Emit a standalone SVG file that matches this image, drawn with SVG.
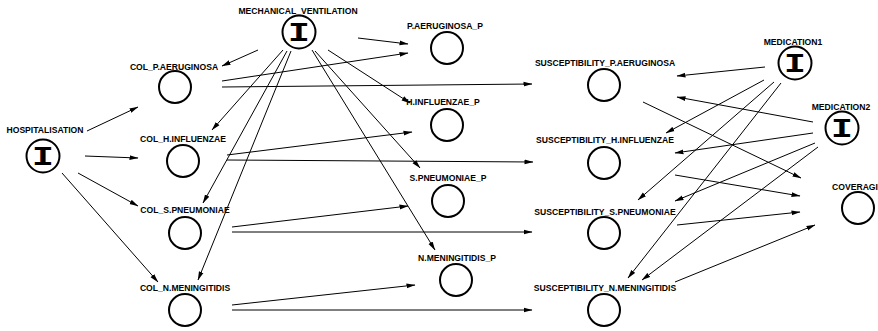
<svg xmlns="http://www.w3.org/2000/svg" width="878" height="331" viewBox="0 0 878 331">
<style>
.n{fill:none;stroke:#000;stroke-width:2}
.t{font-family:"Liberation Sans",Arial,sans-serif;font-size:8.6px;font-weight:bold;fill:#000;text-anchor:middle}
.i{font-family:"Liberation Mono","Courier New",monospace;font-size:28px;font-weight:bold;fill:#000;text-anchor:middle}
.e path{fill:none;stroke:#000;stroke-width:1;marker-end:url(#ah)}
</style>
<defs>
<marker id="ah" markerWidth="9" markerHeight="6" refX="8.5" refY="3" orient="auto" markerUnits="userSpaceOnUse"><path d="M0,0.6 L9,3 L0,5.4 z" fill="#000"/></marker>
</defs>
<rect width="878" height="331" fill="#fff"/>
<g class="e" id="connectors">
<path d="M87,131 L138,107"/>
<path d="M85,156 L138,158"/>
<path d="M78,173 L138,206"/>
<path d="M62,173 L158,282"/>
<path d="M258,50 L222,66"/>
<path d="M283,50 L212,130"/>
<path d="M287,51 L203,203"/>
<path d="M291,51 L198,280"/>
<path d="M358,38 L408,44"/>
<path d="M328,50 L410,103"/>
<path d="M315,51 L420,168"/>
<path d="M312,50 L435,250"/>
<path d="M222,81 L408,53"/>
<path d="M222,87 L532,84"/>
<path d="M227,155 L412,132"/>
<path d="M227,160 L533,162"/>
<path d="M232,227 L408,206"/>
<path d="M232,232 L532,232"/>
<path d="M232,305 L415,285"/>
<path d="M232,310 L532,310"/>
<path d="M765,67 L677,76"/>
<path d="M764,80 L666,133"/>
<path d="M774,82 L638,200"/>
<path d="M781,83 L628,278"/>
<path d="M813,122 L677,97"/>
<path d="M813,133 L675,153"/>
<path d="M815,143 L675,201"/>
<path d="M818,147 L642,280"/>
<path d="M643,102 L801,178"/>
<path d="M675,175 L800,196"/>
<path d="M677,225 L800,212"/>
<path d="M675,282 L815,225"/>
</g>
<g id="HOSPITALISATION"><text class="t" x="45" y="133">HOSPITALISATION</text><circle class="n" cx="43" cy="156" r="16.5"/><text class="i" x="0" y="165" transform="translate(43,0) scale(1.3,1)">I</text></g>
<g id="MECHANICAL_VENTILATION"><text class="t" x="298" y="14">MECHANICAL_VENTILATION</text><circle class="n" cx="299" cy="32" r="16.5"/><text class="i" x="0" y="41" transform="translate(299,0) scale(1.3,1)">I</text></g>
<g id="MEDICATION1"><text class="t" x="793" y="45">MEDICATION1</text><circle class="n" cx="795" cy="63" r="16.5"/><text class="i" x="0" y="72" transform="translate(795,0) scale(1.3,1)">I</text></g>
<g id="MEDICATION2"><text class="t" x="841" y="110">MEDICATION2</text><circle class="n" cx="842" cy="128" r="16.5"/><text class="i" x="0" y="137" transform="translate(842,0) scale(1.3,1)">I</text></g>
<g id="COL_P.AERUGINOSA"><text class="t" x="174" y="70">COL_P.AERUGINOSA</text><circle class="n" cx="175" cy="87" r="16"/></g>
<g id="COL_H.INFLUENZAE"><text class="t" x="183" y="142">COL_H.INFLUENZAE</text><circle class="n" cx="183" cy="161" r="16"/></g>
<g id="COL_S.PNEUMONIAE"><text class="t" x="185" y="213">COL_S.PNEUMONIAE</text><circle class="n" cx="185" cy="233" r="16"/></g>
<g id="COL_N.MENINGITIDIS"><text class="t" x="185" y="291">COL_N.MENINGITIDIS</text><circle class="n" cx="185" cy="310" r="16"/></g>
<g id="P.AERUGINOSA_P"><text class="t" x="445" y="29">P.AERUGINOSA_P</text><circle class="n" cx="447" cy="48" r="16"/></g>
<g id="H.INFLUENZAE_P"><text class="t" x="443" y="105">H.INFLUENZAE_P</text><circle class="n" cx="447" cy="125" r="16"/></g>
<g id="S.PNEUMONIAE_P"><text class="t" x="448" y="181">S.PNEUMONIAE_P</text><circle class="n" cx="448" cy="201" r="16"/></g>
<g id="N.MENINGITIDIS_P"><text class="t" x="457" y="261">N.MENINGITIDIS_P</text><circle class="n" cx="456" cy="280" r="16"/></g>
<g id="SUSCEPTIBILITY_P.AERUGINOSA"><text class="t" x="605" y="66">SUSCEPTIBILITY_P.AERUGINOSA</text><circle class="n" cx="604" cy="85" r="16"/></g>
<g id="SUSCEPTIBILITY_H.INFLUENZAE"><text class="t" x="605" y="143">SUSCEPTIBILITY_H.INFLUENZAE</text><circle class="n" cx="604" cy="163" r="16"/></g>
<g id="SUSCEPTIBILITY_S.PNEUMONIAE"><text class="t" x="605" y="215">SUSCEPTIBILITY_S.PNEUMONIAE</text><circle class="n" cx="604" cy="233" r="16"/></g>
<g id="SUSCEPTIBILITY_N.MENINGITIDIS"><text class="t" x="605" y="291">SUSCEPTIBILITY_N.MENINGITIDIS</text><circle class="n" cx="604" cy="310" r="16"/></g>
<g id="COVERAGI"><text class="t" x="855" y="190">COVERAGI</text><circle class="n" cx="858" cy="208" r="16"/></g>
</svg>
